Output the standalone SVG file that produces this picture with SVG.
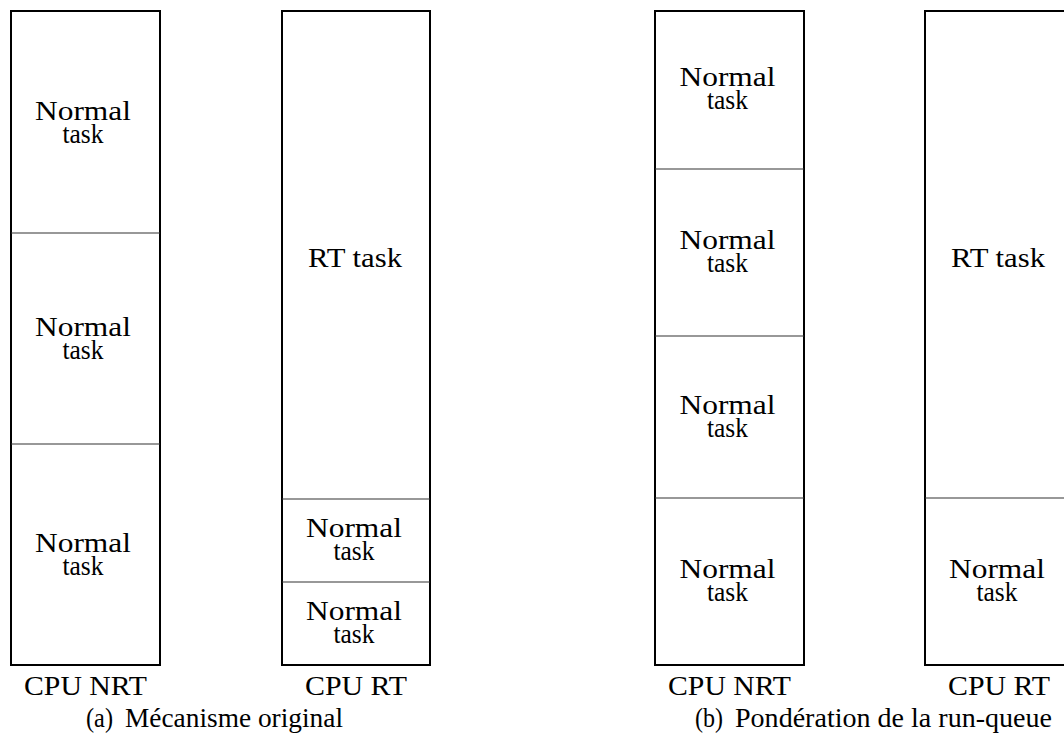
<svg xmlns="http://www.w3.org/2000/svg" width="1064" height="740" viewBox="0 0 1064 740">
<style>
.frame{fill:none;stroke:#000;stroke-width:2}
.div{stroke:#333;stroke-width:1.2}
text{font-family:"Liberation Serif","Times New Roman",serif;font-size:28px;fill:#000;text-anchor:middle}
.cap{text-anchor:start}
</style>
<rect width="1064" height="740" fill="#fff"/>
<g id="cpu-nrt-a">
<rect class="frame" x="11" y="11" width="149" height="654"/>
<line class="div" x1="11" y1="233" x2="160" y2="233"/>
<line class="div" x1="11" y1="444" x2="160" y2="444"/>
<text x="83" y="120" textLength="96" lengthAdjust="spacingAndGlyphs">Normal</text>
<text x="83" y="143" textLength="41" lengthAdjust="spacingAndGlyphs">task</text>
<text x="83" y="336" textLength="96" lengthAdjust="spacingAndGlyphs">Normal</text>
<text x="83" y="359" textLength="41" lengthAdjust="spacingAndGlyphs">task</text>
<text x="83" y="552" textLength="96" lengthAdjust="spacingAndGlyphs">Normal</text>
<text x="83" y="575" textLength="41" lengthAdjust="spacingAndGlyphs">task</text>
<text x="85.5" y="695" textLength="123" lengthAdjust="spacingAndGlyphs">CPU NRT</text>
</g>
<g id="cpu-rt-a">
<rect class="frame" x="282" y="11" width="148" height="654"/>
<line class="div" x1="282" y1="499" x2="430" y2="499"/>
<line class="div" x1="282" y1="582" x2="430" y2="582"/>
<text x="355" y="267" textLength="94" lengthAdjust="spacingAndGlyphs">RT task</text>
<text x="354" y="537" textLength="96" lengthAdjust="spacingAndGlyphs">Normal</text>
<text x="354" y="560" textLength="41" lengthAdjust="spacingAndGlyphs">task</text>
<text x="354" y="620" textLength="96" lengthAdjust="spacingAndGlyphs">Normal</text>
<text x="354" y="643" textLength="41" lengthAdjust="spacingAndGlyphs">task</text>
<text x="356" y="695" textLength="102" lengthAdjust="spacingAndGlyphs">CPU RT</text>
</g>
<g id="cpu-nrt-b">
<rect class="frame" x="655" y="11" width="149" height="654"/>
<line class="div" x1="655" y1="169" x2="804" y2="169"/>
<line class="div" x1="655" y1="336" x2="804" y2="336"/>
<line class="div" x1="655" y1="498" x2="804" y2="498"/>
<text x="727.5" y="86" textLength="96" lengthAdjust="spacingAndGlyphs">Normal</text>
<text x="727.5" y="109" textLength="41" lengthAdjust="spacingAndGlyphs">task</text>
<text x="727.5" y="249" textLength="96" lengthAdjust="spacingAndGlyphs">Normal</text>
<text x="727.5" y="272" textLength="41" lengthAdjust="spacingAndGlyphs">task</text>
<text x="727.5" y="414" textLength="96" lengthAdjust="spacingAndGlyphs">Normal</text>
<text x="727.5" y="437" textLength="41" lengthAdjust="spacingAndGlyphs">task</text>
<text x="727.5" y="578" textLength="96" lengthAdjust="spacingAndGlyphs">Normal</text>
<text x="727.5" y="601" textLength="41" lengthAdjust="spacingAndGlyphs">task</text>
<text x="729.5" y="695" textLength="123" lengthAdjust="spacingAndGlyphs">CPU NRT</text>
</g>
<g id="cpu-rt-b">
<rect class="frame" x="925" y="11" width="148" height="654"/>
<line class="div" x1="925" y1="498" x2="1073" y2="498"/>
<text x="998" y="267" textLength="94" lengthAdjust="spacingAndGlyphs">RT task</text>
<text x="997" y="578" textLength="96" lengthAdjust="spacingAndGlyphs">Normal</text>
<text x="997" y="601" textLength="41" lengthAdjust="spacingAndGlyphs">task</text>
<text x="999" y="695" textLength="102" lengthAdjust="spacingAndGlyphs">CPU RT</text>
</g>
<g id="captions">
<text class="cap" x="86" y="727" textLength="27" lengthAdjust="spacingAndGlyphs">(a)</text>
<text class="cap" x="125" y="727" textLength="218" lengthAdjust="spacingAndGlyphs">Mécanisme original</text>
<text class="cap" x="695" y="727" textLength="28" lengthAdjust="spacingAndGlyphs">(b)</text>
<text class="cap" x="735" y="727" textLength="317" lengthAdjust="spacingAndGlyphs">Pondération de la run-queue</text>
</g>
<g id="connectors"/>
</svg>
